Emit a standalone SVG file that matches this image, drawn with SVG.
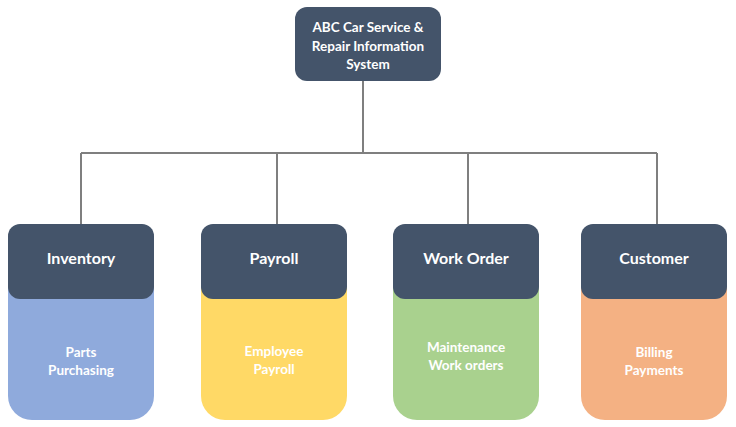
<svg xmlns="http://www.w3.org/2000/svg" width="736" height="427" viewBox="0 0 736 427">
<style>
.hdr{fill:#44546A}
.t{font-family:Lato,"Open Sans",sans-serif;font-weight:bold;fill:#FFFFFF;text-anchor:middle;dominant-baseline:central}
.h{font-size:16px}
.s{font-size:13.5px}
.conn{stroke:#7F7F7F;stroke-width:2;fill:none}
</style>
<rect width="736" height="427" fill="#FFFFFF"/>
<g id="connectors">
<path class="conn" d="M363 80 V153 M81 153 H657 M81 153 V225 M277 153 V225 M468 153 V225 M657 153 V225"/>
</g>
<g id="root">
<rect class="hdr" x="295" y="7" width="146" height="74" rx="12"/>
<text class="t s" x="368" y="27">ABC Car Service &amp;</text>
<text class="t s" x="368" y="45.5">Repair Information</text>
<text class="t s" x="368" y="64">System</text>
</g>
<g id="inventory">
<path d="M8 260 H154 V396 A24 24 0 0 1 130 420 H32 A24 24 0 0 1 8 396 Z" fill="#8FAADC"/>
<rect class="hdr" x="8" y="224" width="146" height="75" rx="12"/>
<text class="t h" x="81" y="257">Inventory</text>
<text class="t s" x="81" y="352">Parts</text>
<text class="t s" x="81" y="370">Purchasing</text>
</g>
<g id="payroll">
<path d="M201 260 H347 V396 A24 24 0 0 1 323 420 H225 A24 24 0 0 1 201 396 Z" fill="#FFD966"/>
<rect class="hdr" x="201" y="224" width="146" height="75" rx="12"/>
<text class="t h" x="274" y="257">Payroll</text>
<text class="t s" x="274" y="351">Employee</text>
<text class="t s" x="274" y="369">Payroll</text>
</g>
<g id="workorder">
<path d="M393 260 H539 V396 A24 24 0 0 1 515 420 H417 A24 24 0 0 1 393 396 Z" fill="#A9D18E"/>
<rect class="hdr" x="393" y="224" width="146" height="75" rx="12"/>
<text class="t h" x="466" y="257">Work Order</text>
<text class="t s" x="466" y="347">Maintenance</text>
<text class="t s" x="466" y="365">Work orders</text>
</g>
<g id="customer">
<path d="M581 260 H727 V396 A24 24 0 0 1 703 420 H605 A24 24 0 0 1 581 396 Z" fill="#F4B183"/>
<rect class="hdr" x="581" y="224" width="146" height="75" rx="12"/>
<text class="t h" x="654" y="257">Customer</text>
<text class="t s" x="654" y="352">Billing</text>
<text class="t s" x="654" y="370">Payments</text>
</g>
</svg>
